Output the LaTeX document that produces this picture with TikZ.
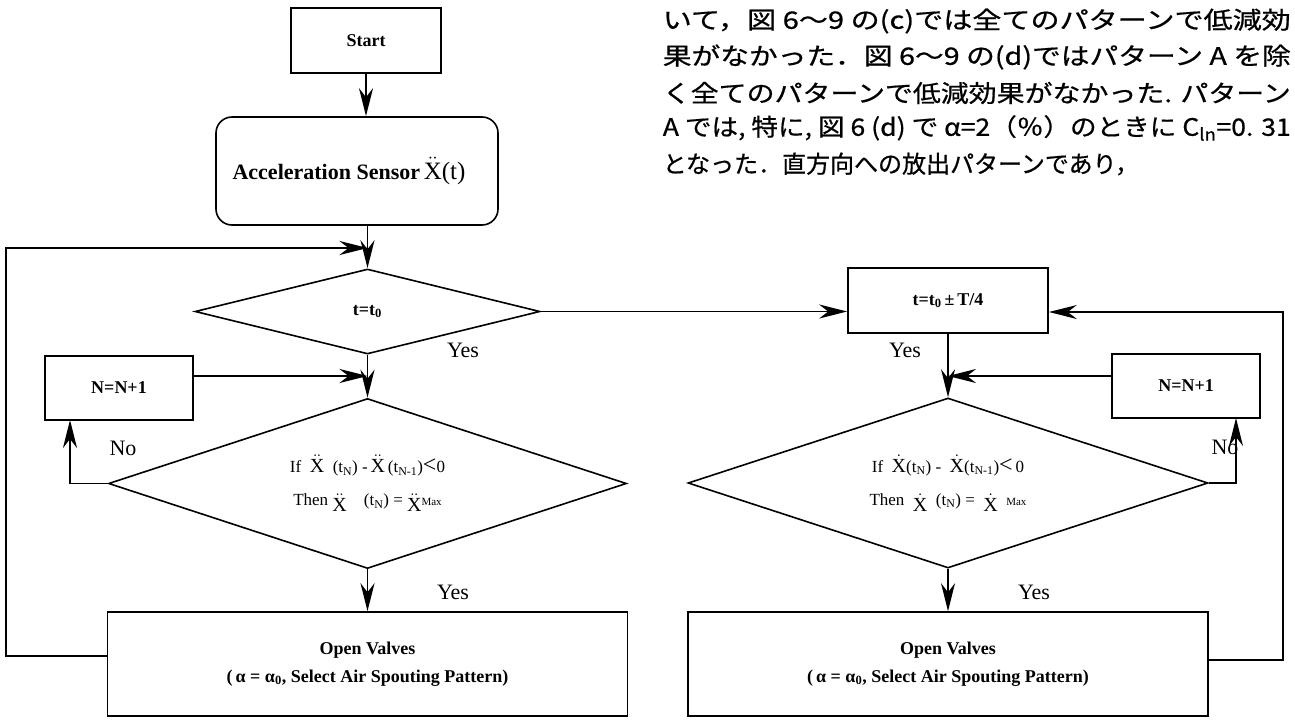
\documentclass[tikz,border=0pt]{standalone}
\usepackage{fontspec}
\usepackage{amsmath}
\usepackage{graphicx}
\setmainfont{Liberation Serif}
\newfontfamily\jp[FakeBold=0.6]{Noto Sans CJK JP}
\usetikzlibrary{shapes.geometric,arrows.meta}
\newcommand{\ddX}{$\ddot{\text{X}}$}
\newcommand{\dX}{$\dot{\text{X}}$}
\newcommand{\jpline}[1]{\resizebox{628pt}{\height}{\jp\fontsize{24}{24}\selectfont #1}}
\tikzset{
  box/.style={draw, rectangle, inner sep=0pt, font=\fontsize{18}{20}\selectfont\bfseries, align=center},
  dia/.style={draw, diamond, inner sep=0pt, align=center},
  lbl/.style={font=\fontsize{22}{24}\selectfont},
  jpl/.style={anchor=west, inner sep=0pt},
  big/.style={font=\fontsize{20}{20}\selectfont},
}
\begin{document}
\begin{tikzpicture}[x=1pt,y=-1pt, line width=1.6pt,
  >={Stealth[length=28pt,width=14pt,inset=9pt]}]
\useasboundingbox (0,0) rectangle (1295,720);

% Japanese text
\node[jpl] (jp1) at (662,21) {\jpline{いて，図 6〜9 の(c)では全てのパターンで低減効}};
\node[jpl] (jp2) at (662,57) {\jpline{果がなかった．図 6〜9 の(d)ではパターン A を除}};
\node[jpl] (jp3) at (662,93) {\jpline{く全てのパターンで低減効果がなかった. パターン}};
\node[jpl] (jp4) at (662,128) {\jpline{A では, 特に, 図 6 (d) で α=2（％）のときに C\textsubscript{ln}=0. 31}};
\node[jpl] (jp5) at (662,164) {\jp\fontsize{24}{24}\selectfont となった．直方向への放出パターンであり，};

% left column
\node[box, minimum width=150pt, minimum height=65pt] (start) at (366,40.5) {Start};
\node[box, rounded corners=16pt, minimum width=282pt, minimum height=108pt,
      font=\fontsize{22}{24}\selectfont\bfseries] (sensor) at (357,171)
      {Acceleration Sensor\,{\mdseries\fontsize{25}{25}\selectfont\ddX(t)}\hspace*{16pt}};
\node[dia, aspect=4, minimum width=345pt, minimum height=85pt, font=\fontsize{18}{18}\selectfont\bfseries]
      (d1) at (367.5,311.5) {t=t\textsubscript{0}};
\node[box, minimum width=148pt, minimum height=64pt] (n1) at (119,388) {N=N+1};
\node[dia, aspect=3.05, minimum width=518pt, minimum height=170pt, font=\fontsize{17}{33}\selectfont]
      (d2) at (367.5,483.5)
      {If\enspace {\fontsize{20}{20}\selectfont\ddX}\enspace(t\textsubscript{N}) -\,{\fontsize{20}{20}\selectfont\ddX}\,(t\textsubscript{N-1}){\fontsize{24}{24}\selectfont\textless}0\\
       Then \raisebox{-6pt}{\fontsize{20}{20}\selectfont\ddX}\quad(t\textsubscript{N}) = \raisebox{-6pt}{\fontsize{20}{20}\selectfont\ddX}{\fontsize{11}{11}\selectfont Max}};
\node[box, minimum width=520pt, minimum height=104pt] (ov1) at (367.5,664)
      {Open Valves\\[8pt](\,α = α\textsubscript{0}, Select Air Spouting Pattern)};

% right column
\node[box, minimum width=200pt, minimum height=65pt] (t0) at (948,300.5) {t=t\textsubscript{0}\,±\,T/4};
\node[box, minimum width=148pt, minimum height=64pt] (n2) at (1186,386) {N=N+1};
\node[dia, aspect=3.05, minimum width=520pt, minimum height=170pt, font=\fontsize{17}{33}\selectfont]
      (d3) at (948,483)
      {If\enspace {\fontsize{20}{20}\selectfont\dX}(t\textsubscript{N}) -\enspace{\fontsize{20}{20}\selectfont\dX}(t\textsubscript{N-1}){\fontsize{24}{24}\selectfont\textless}\,0\\
       Then\enspace \raisebox{-6pt}{\fontsize{20}{20}\selectfont\dX}\enspace(t\textsubscript{N}) =\enspace\raisebox{-6pt}{\fontsize{20}{20}\selectfont\dX}\enspace{\fontsize{11}{11}\selectfont Max}};
\node[box, minimum width=520pt, minimum height=104pt] (ov2) at (948,664)
      {Open Valves\\[8pt](\,α = α\textsubscript{0}, Select Air Spouting Pattern)};

% labels
\node[lbl] (yes1) at (463,350) {Yes};
\node[lbl] (yes2) at (905,350) {Yes};
\node[lbl] (yes3) at (453,592) {Yes};
\node[lbl] (yes4) at (1034,592) {Yes};
\node[lbl] (no1) at (123,448) {No};
\node[lbl] (no2) at (1225,447) {No};

% junction coordinates
\coordinate (jtop) at (367.5,248);
\coordinate (jn1) at (367.5,376);
\coordinate (n1no) at (70,420);
\coordinate (jn2) at (948,376);
\coordinate (n2no) at (1236,418);
\coordinate (lft) at (6,248);
\coordinate (rt) at (1283,312);

% connectors
\draw[->] (start.south) -- (start.south |- sensor.north);
\draw[->] (sensor.south -| d1.north) -- (d1.north);
\draw[->] ([yshift=8pt]ov1.west) -| (lft) -- (jtop);
\draw[->] (d1.east) -- (d1.east -| t0.west);
\draw[->] (d1.south) -- (d2.north);
\draw[->] ([yshift=12pt]n1.east) -- (jn1);
\draw[->] (d2.west) -| (n1no);
\draw[->] (d2.south) -- (ov1.north);

\draw[->] (t0.south) -- (d3.north);
\draw[->] ([yshift=10pt]n2.west) -- (jn2);
\draw[->] (d3.east) -| (n2no);
\draw[->] (d3.south) -- (ov2.north);
\draw[->] ([yshift=4pt]ov2.east) -| (rt) -- (rt -| t0.east);
\end{tikzpicture}
\end{document}
